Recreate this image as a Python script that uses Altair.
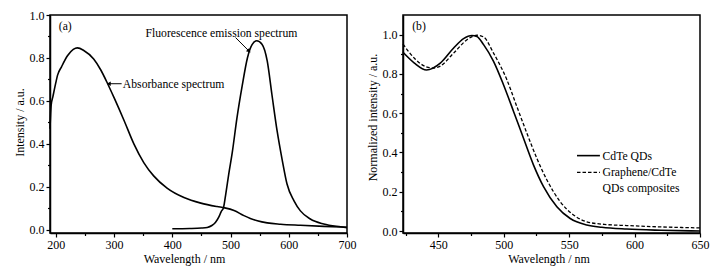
import altair as alt
import pandas as pd

# ---------------- data ----------------
abs_wl = [190, 192, 195, 200, 203, 210, 220, 230, 237, 248, 265, 277, 289, 300,
          317, 334, 351, 368, 391, 420, 449, 477, 490, 506, 523, 534, 546, 563,
          586, 620, 660, 700]
abs_val = [0.47, 0.58, 0.62, 0.685, 0.72, 0.76, 0.81, 0.84, 0.847, 0.835, 0.795,
           0.745, 0.68, 0.615, 0.51, 0.40, 0.313, 0.251, 0.194, 0.15, 0.124,
           0.108, 0.102, 0.09, 0.066, 0.053, 0.042, 0.032, 0.026, 0.021, 0.016,
           0.012]

fl_wl = [400, 430, 450, 460, 468, 474, 480, 484, 488, 492, 497, 503, 511, 520,
         529, 537, 545, 554, 563, 571, 580, 589, 597, 609, 620, 637, 660, 689, 700]
fl_val = [0.005, 0.006, 0.008, 0.011, 0.02, 0.034, 0.06, 0.085, 0.104, 0.17,
          0.26, 0.36, 0.52, 0.67, 0.80, 0.862, 0.88, 0.864, 0.786, 0.631, 0.46,
          0.321, 0.213, 0.135, 0.088, 0.05, 0.027, 0.014, 0.01]

cd_wl = [423, 431.7, 441, 451.5, 461.7, 469.3, 475.7, 479.5, 484.6, 492.2, 499.8,
         507.5, 515.1, 522.7, 530.4, 540.6, 550.8, 563.5, 575, 594, 620, 650]
cd_val = [0.91, 0.855, 0.82, 0.855, 0.932, 0.98, 0.996, 0.991, 0.949, 0.864,
          0.745, 0.609, 0.472, 0.337, 0.226, 0.124, 0.064, 0.031, 0.019, 0.01,
          0.004, 0.0]

gr_wl = [423, 431.7, 440, 446, 451.5, 461.7, 471.9, 479.5, 484.6, 492.2, 502.4,
         510, 517.7, 525.3, 533, 543.1, 553.3, 563.5, 576.7, 594, 620, 650]
gr_val = [0.952, 0.88, 0.838, 0.83, 0.84, 0.906, 0.974, 0.997, 0.988, 0.906,
          0.77, 0.634, 0.498, 0.37, 0.26, 0.15, 0.082, 0.047, 0.034, 0.028,
          0.021, 0.016]

# annotation text and positions (data units)
ann_a_text = ["(a)", "Fluorescence emission spectrum", "Absorbance spectrum"]
ann_a_x = [205, 354, 315]
ann_a_y = [0.95, 0.918, 0.68]

arrow_x = [313, 508.6]
arrow_y = [0.68, 0.895]
arrow_x2 = [293, 531]
arrow_y2 = [0.68, 0.834]
head_x = [292, 531]
head_y = [0.68, 0.834]
head_angle = [270, 135]

legend_labels = ["CdTe QDs", "Graphene/CdTe"]
legend_extra = "QDs composites"
leg_x1, leg_x2, leg_tx = 556, 573.5, 575.5
leg_y = [0.384, 0.299]
leg_y3 = 0.221
label_b = "(b)"
label_b_x, label_b_y = 430, 1.042

FONT = "Liberation Serif"

# ---------------- tables ----------------
df_abs = pd.DataFrame({"wl": abs_wl, "val": abs_val})
df_fl = pd.DataFrame({"wl": fl_wl, "val": fl_val})
df_cd = pd.DataFrame({"wl": cd_wl, "val": cd_val})
df_gr = pd.DataFrame({"wl": gr_wl, "val": gr_val})
df_ann = pd.DataFrame({"t": ann_a_text, "wl": ann_a_x, "val": ann_a_y})
df_arr = pd.DataFrame({"wl": arrow_x, "val": arrow_y, "wl2": arrow_x2, "val2": arrow_y2})
df_head = [pd.DataFrame({"wl": [head_x[i]], "val": [head_y[i]]}) for i in range(2)]
df_leg = pd.DataFrame({"wl": [leg_x1] * 2, "wl2": [leg_x2] * 2, "val": leg_y,
                       "t": legend_labels, "dash": ["s", "d"]})
df_legt = pd.DataFrame({"wl": [leg_tx] * 3, "val": leg_y + [leg_y3],
                        "t": legend_labels + [legend_extra]})
df_b = pd.DataFrame({"t": [label_b], "wl": [label_b_x], "val": [label_b_y]})

W, H = 297, 218

# ---------------- axes ----------------
ya_vals = [round(i * 0.1, 1) for i in range(11)]
y_minor = "round(datum.value*10) % 2 != 0"
y_label = "round(datum.value*10) % 2 == 0 ? format(datum.value, '.1f') : ''"

def xaxis(vals, major, title, tx):
    return alt.Axis(values=vals, title=title, titleX=tx,
                    labelExpr=f"datum.value % {major} == 0 ? datum.label : ''",
                    tickSize={"condition": {"test": f"datum.value % {major} != 0", "value": 2.5}, "value": 4},
                    labelFlush=False, labelOverlap=False, format="d")

def yaxis(title, ty):
    return alt.Axis(values=ya_vals, title=title, labelExpr=y_label, titleY=ty,
                    tickSize={"condition": {"test": y_minor, "value": 2.5}, "value": 4},
                    labelFlush=False, labelOverlap=False)

# ---------------- panel (a) ----------------
xs_a = alt.Scale(domain=[190, 700], nice=False, zero=False)
ys_a = alt.Scale(domain=[-0.015, 1.0], nice=False, zero=False)
xa = alt.X("wl:Q", scale=xs_a, axis=xaxis(list(range(200, 701, 50)), 100, "Wavelength / nm", 134))
ya = alt.Y("val:Q", scale=ys_a, axis=yaxis("Intensity / a.u.", 107))

line_abs = alt.Chart(df_abs).mark_line(color="black", strokeWidth=1.6, interpolate="monotone").encode(x=xa, y=ya)
line_fl = alt.Chart(df_fl).mark_line(color="black", strokeWidth=1.6, interpolate="monotone").encode(x=xa, y=ya)
txt_a = alt.Chart(df_ann).mark_text(align="left", baseline="middle", font=FONT, fontSize=11.7,
                                    color="black").encode(x=xa, y=ya, text="t:N")
arr = alt.Chart(df_arr).mark_rule(color="black", strokeWidth=1).encode(
    x=xa, y=ya, x2="wl2:Q", y2="val2:Q")
heads = [alt.Chart(df_head[i]).mark_point(shape="triangle", filled=True, size=22, color="black",
                                           opacity=1, angle=head_angle[i]).encode(x=xa, y=ya)
         for i in range(2)]

panel_a = alt.layer(line_abs, line_fl, txt_a, arr, *heads).properties(width=W, height=H)

# ---------------- panel (b) ----------------
xs_b = alt.Scale(domain=[423, 650], nice=False, zero=False)
ys_b = alt.Scale(domain=[-0.01, 1.1], nice=False, zero=False)
xb = alt.X("wl:Q", scale=xs_b, axis=xaxis(list(range(425, 651, 25)), 50, "Wavelength / nm", 145.5))
yb = alt.Y("val:Q", scale=ys_b, axis=yaxis("Normalized intensity / a.u.", 102))

line_cd = alt.Chart(df_cd).mark_line(color="black", strokeWidth=1.6, interpolate="monotone").encode(x=xb, y=yb)
line_gr = alt.Chart(df_gr).mark_line(color="black", strokeWidth=1.3, strokeDash=[3.5, 2],
                                     interpolate="monotone").encode(x=xb, y=yb)
leg_s = alt.Chart(df_leg[df_leg.dash == "s"]).mark_rule(color="black", strokeWidth=1.6).encode(
    x=xb, x2="wl2:Q", y=yb)
leg_d = alt.Chart(df_leg[df_leg.dash == "d"]).mark_rule(color="black", strokeWidth=1.3,
                                                        strokeDash=[3.5, 2]).encode(x=xb, x2="wl2:Q", y=yb)
leg_t = alt.Chart(df_legt).mark_text(align="left", baseline="middle", font=FONT, fontSize=11.7,
                                     color="black").encode(x=xb, y=yb, text="t:N")
txt_b = alt.Chart(df_b).mark_text(align="left", baseline="middle", font=FONT, fontSize=11.7,
                                  color="black").encode(x=xb, y=yb, text="t:N")

panel_b = alt.layer(line_cd, line_gr, leg_s, leg_d, leg_t, txt_b).properties(width=W, height=H)

chart = alt.hconcat(panel_a, panel_b, spacing=8).properties(
    padding={"left": 12, "top": 8, "right": 5, "bottom": 5},
    background="white"
).configure_view(stroke="black", strokeWidth=1.5).configure_axis(
    labelFont=FONT, titleFont=FONT, labelFontSize=12, titleFontSize=12,
    titleFontWeight="normal", labelColor="black", titleColor="black",
    tickColor="black", domainColor="black", domainWidth=1.5, tickWidth=1.2,
    grid=False, labelPadding=2, titlePadding=3
)

chart.save("out.html", embed_options={"renderer": "svg", "actions": False})
